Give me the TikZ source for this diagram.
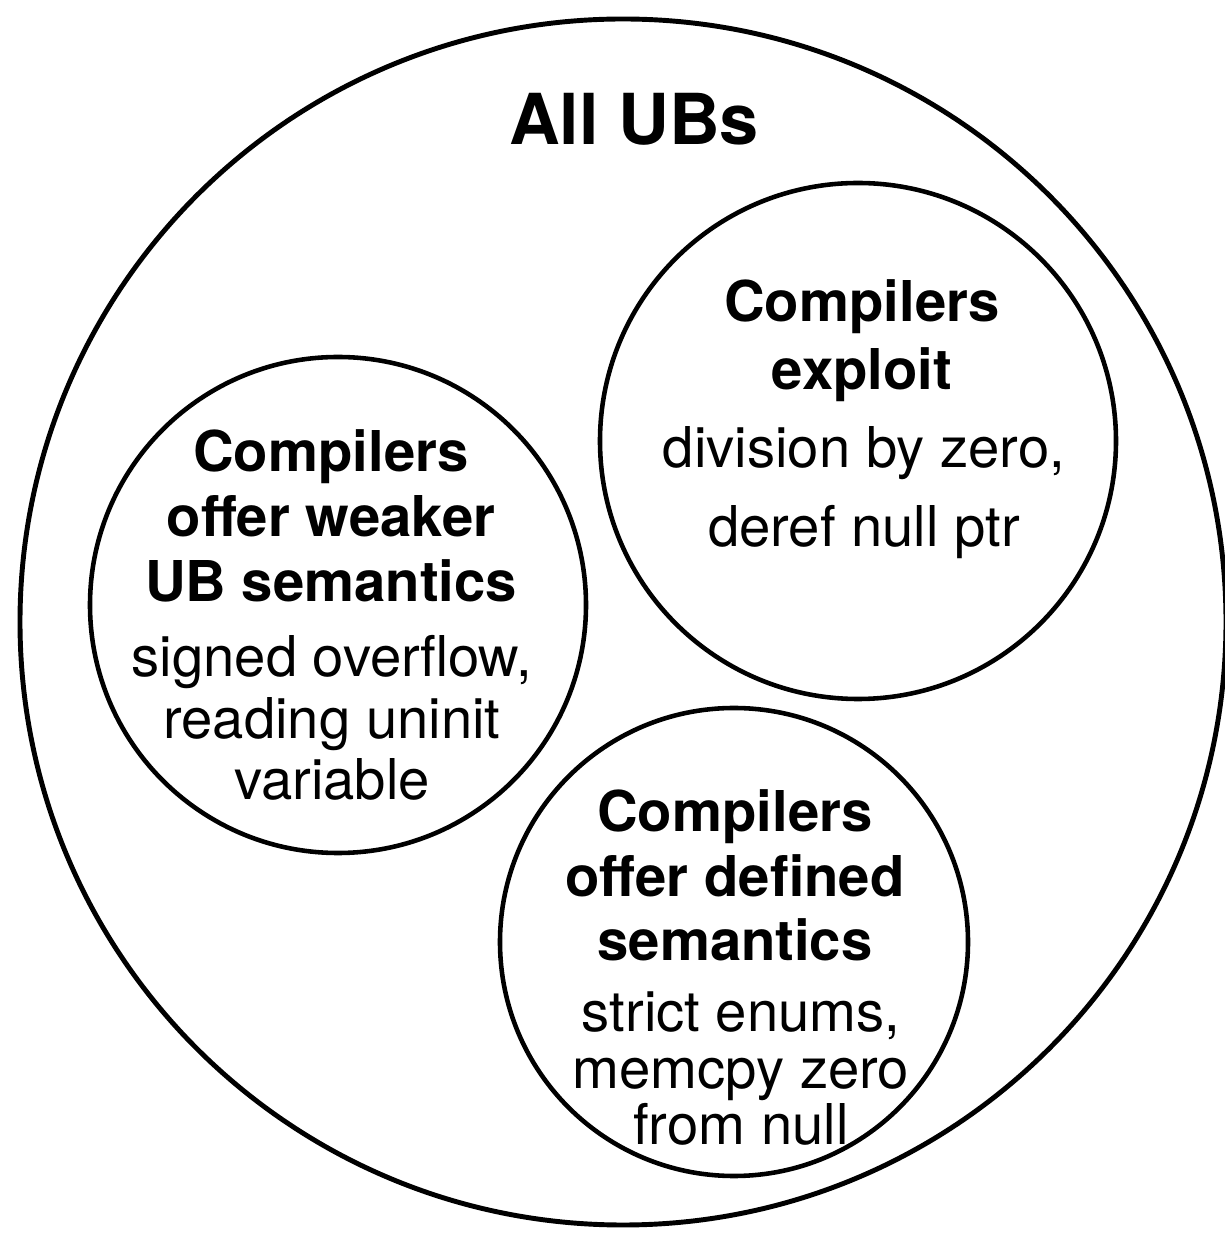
\documentclass[tikz,border=0pt]{standalone}
\usepackage{fontspec}
\setmainfont{TeX Gyre Heros}

\begin{document}
\begin{tikzpicture}[
	ring/.style={draw, circle, line width=1.3pt, inner sep=0pt},
	heading/.style={font=\bfseries\fontsize{16}{18.5}\selectfont, align=center, anchor=base},
	detail/.style={font=\fontsize{16}{17.6}\selectfont, align=center, anchor=base}
]

\useasboundingbox (0,0) rectangle (12.25,12.35);

% outer set
\node[ring, line width=1.4pt, minimum size=12.06cm] (all) at (6.23,6.13) {};
\node[font=\bfseries\fontsize{20}{24}\selectfont, anchor=base] (alltitle) at (6.34,10.90) {All UBs};

% the three subsets
\node[ring, minimum size=4.96cm] (weaker) at (3.38,6.30) {};
\node[ring, minimum size=5.16cm] (exploit) at (8.58,7.94) {};
\node[ring, minimum size=4.68cm] (defined) at (7.34,2.93) {};

% weaker semantics (anchors sit on the last line)
\node[heading] (weakertitle) at (3.31,6.33) {Compilers\\offer weaker\\UB semantics};
\node[detail] (weakerbody) at (3.32,4.35) {signed overflow,\\reading uninit\\variable};

% exploit
\node[heading, font=\bfseries\fontsize{16}{19.5}\selectfont] (exploittitle) at (8.62,8.45) {Compilers\\exploit};
\node[detail, font=\fontsize{16}{22.5}\selectfont] (exploitbody) at (8.64,6.88) {division by zero,\\deref null ptr};

% defined semantics
\node[heading, font=\bfseries\fontsize{16}{18.4}\selectfont] (definedtitle) at (7.35,2.74) {Compilers\\offer defined\\semantics};
\node[detail, font=\fontsize{16}{16.1}\selectfont] (definedbody) at (7.41,0.90) {strict enums,\\memcpy zero\\from null};

\end{tikzpicture}
\end{document}
